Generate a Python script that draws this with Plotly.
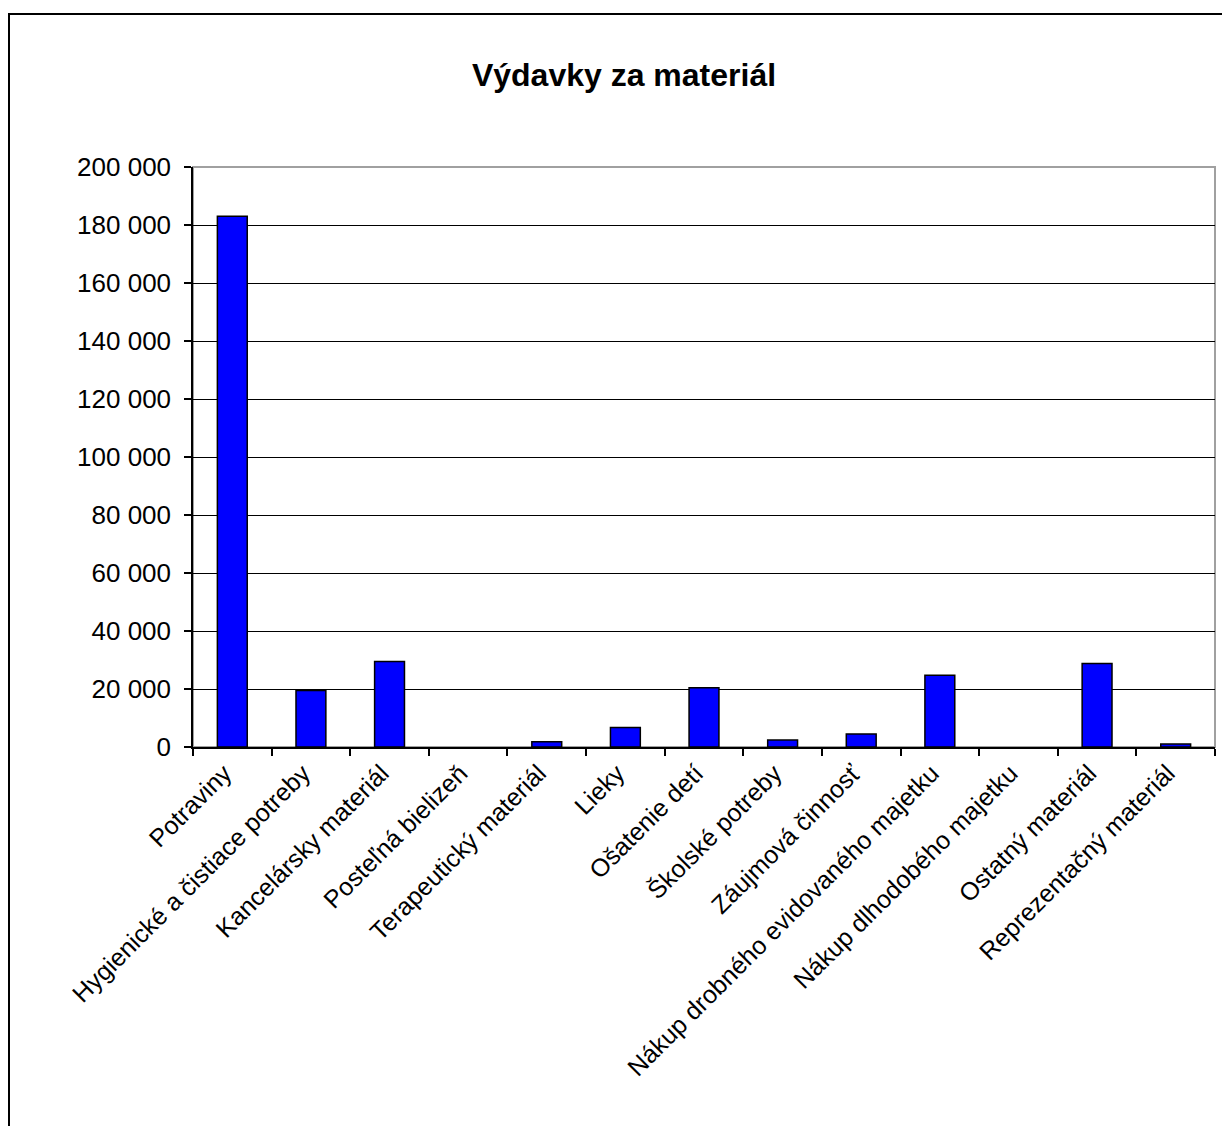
import plotly.graph_objects as go

categories = [
    "Potraviny",
    "Hygienické a čistiace potreby",
    "Kancelársky materiál",
    "Posteľná bielizeň",
    "Terapeutický materiál",
    "Lieky",
    "Ošatenie detí",
    "Školské potreby",
    "Záujmová činnosť",
    "Nákup drobného evidovaného majetku",
    "Nákup dlhodobého majetku",
    "Ostatný materiál",
    "Reprezentačný materiál",
]
values = [183000, 19500, 29500, 0, 1800, 6700, 20400, 2400, 4500, 24700, 0, 28800, 1000]
y_ticks = [0, 20000, 40000, 60000, 80000, 100000, 120000, 140000, 160000, 180000, 200000]

# page has an 8px body margin
W, H = 1222, 1118
ML, MR, MT, MB = 185, 15, 159, 379
PW, PH = W - ML - MR, H - MT - MB
FONT = "Liberation Sans, Arial, sans-serif"

fig = go.Figure(
    go.Bar(
        x=categories,
        y=values,
        marker=dict(color="#0000FF",
                    line=dict(color="#000000", width=[1.5 if v > 0 else 0 for v in values])),
    )
)

# outer chart frame (left/top visible)
fx0 = (1 - ML) / PW
fy1 = 1 + (MT - 6) / PH
fig.add_shape(type="rect", xref="paper", yref="paper", x0=fx0, x1=1.5, y0=-1.5, y1=fy1,
              line=dict(color="#000000", width=2), layer="below")
# plot area frame (gray)
fig.add_shape(type="rect", xref="paper", yref="paper", x0=0, x1=1, y0=0, y1=1,
              line=dict(color="#A0A0A0", width=2), layer="below")

fig.update_layout(
    width=W, height=H,
    margin=dict(l=ML, r=MR, t=MT, b=MB, pad=0),
    paper_bgcolor="white", plot_bgcolor="white",
    separators=", ",
    font=dict(family=FONT, size=25, color="#000000"),
    title=dict(text="<b>Výdavky za materiál</b>", xref="container", yref="container",
               x=616 / W, y=1 - 67 / H, xanchor="center", yanchor="middle",
               font=dict(family=FONT, size=32, color="#000000")),
    bargap=0.62,
    showlegend=False,
)
fig.update_xaxes(
    type="category", tickangle=-45, showline=True, linecolor="#000000", linewidth=1.5,
    ticks="outside", ticklen=7, tickcolor="#000000", tickwidth=1.5, tickson="boundaries",
    showgrid=False, tickfont=dict(family=FONT, size=25), ticklabelshift=-8,
)
fig.update_yaxes(
    range=[0, 200000], tickvals=y_ticks, tickformat=",d",
    showline=True, linecolor="#000000", linewidth=1.5,
    ticks="outside", ticklen=7, tickcolor="#000000", tickwidth=1.5,
    showgrid=True, gridcolor="#000000", gridwidth=1.2, zeroline=False,
    tickfont=dict(family=FONT, size=26), ticklabelstandoff=8,
)

fig.write_html("out.html")
